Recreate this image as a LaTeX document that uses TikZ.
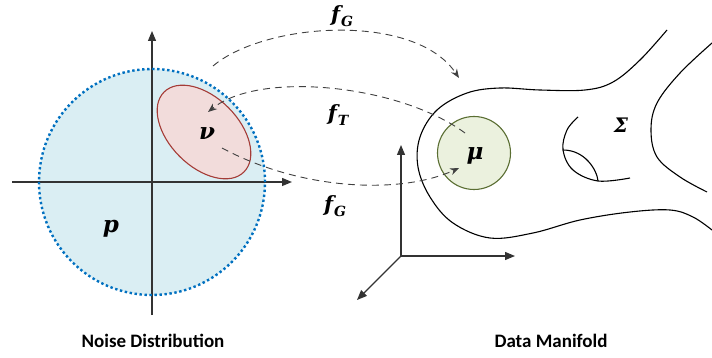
\documentclass[tikz,border=0pt]{standalone}
\usepackage{fontspec}
\newfontfamily\capfont{Carlito}
\newfontfamily\mapfont{DejaVu Serif}
\usetikzlibrary{positioning,arrows.meta,shapes.geometric}
\definecolor{noisefill}{HTML}{DAEEF3}
\definecolor{noiseedge}{HTML}{0070C0}
\definecolor{nufill}{HTML}{F2DCDB}
\definecolor{nuedge}{HTML}{A53C37}
\definecolor{mufill}{HTML}{EBF1DE}
\definecolor{muedge}{HTML}{5A6E32}
\newcommand{\mapname}[1]{f\kern1pt\raisebox{-5pt}{\fontsize{14}{15}\selectfont #1}}

\begin{document}
\begin{tikzpicture}[
  x=1pt, y=-1pt,
  every node/.style={inner sep=0pt},
  caption/.style={font=\capfont\bfseries\fontsize{19}{22}\selectfont},
  maplabel/.style={font=\mapfont\bfseries\itshape\fontsize{21}{24}\selectfont},
  setlabel/.style={font=\mapfont\bfseries\itshape\fontsize{23}{26}\selectfont},
  axis/.style={line width=1.2pt, draw=black!80, -{Triangle[length=10pt,width=8pt]}},
  mapping/.style={line width=0.9pt, draw=black!75, dash pattern=on 7pt off 5pt, -{Stealth[length=9pt,width=7pt]}},
  surface/.style={line width=1.1pt, draw=black}
]
\useasboundingbox (0,0) rectangle (712,358);

% noise side
\node[circle, minimum size=226pt, fill=noisefill] (pdist) at (152,182) {};
\coordinate (hxl) at (12,182);
\coordinate (hxr) at (292,182);
\coordinate (vyb) at (152,315);
\coordinate (vyt) at (152,31);
\draw[axis] (hxl) -- (hxr);
\draw[axis] (vyb) -- (vyt);
\node[circle, minimum size=226pt, draw=noiseedge, line width=2.4pt, dash pattern=on 2.4pt off 2.6pt] at (pdist) {};
\node[ellipse, minimum width=113pt, minimum height=69pt, rotate=-45, fill=nufill, draw=nuedge, line width=1.1pt] (nu) at (204,132) {};
\node[setlabel] (plabel) at (111,229) {p};
\node[setlabel] (nulabel) at (207,134) {ν};

% data side
\draw[surface] plot[smooth, tension=0.6] coordinates {(667,30) (640,60) (613,82) (585,90) (540,90) (500,88) (467,93) (437,110) (420,137) (418,167) (430,197) (453,223) (490,238) (533,233) (580,220) (630,212) (670,210) (693,217) (712,230)};
\draw[surface] plot[smooth, tension=0.6] coordinates {(712,43) (680,73) (657,103) (651,130) (657,157) (680,177) (707,192)};
\draw[surface] plot[smooth, tension=0.6] coordinates {(578,117) (567,130) (563,150) (573,170) (598,181) (630,178)};
\draw[surface] (563,150) .. controls (585,150) and (597,170) .. (598,181);
\node[circle, minimum size=73pt, fill=mufill, draw=muedge, line width=1.1pt] (mu) at (474,153) {};
\node[setlabel] (mulabel) at (475,156) {μ};
\node[setlabel, font=\mapfont\bfseries\itshape\fontsize{20}{22}\selectfont] (sigmalabel) at (621,125) {Σ};
\coordinate (orig) at (401,256);
\coordinate (ozup) at (401,145);
\coordinate (oxr) at (515,256);
\coordinate (odiag) at (357,300);
\draw[axis] (orig) -- (ozup);
\draw[axis] (orig) -- (oxr);
\draw[axis] (orig) -- (odiag);

% mappings
\coordinate (gsrc) at (213,66);
\coordinate (gdst) at (459,78);
\coordinate (tsrc) at (465,133);
\coordinate (tdst) at (208,112);
\coordinate (bsrc) at (222,148);
\coordinate (bdst) at (459,168);
\draw[mapping] (gsrc) .. controls (265,22) and (415,12) .. (gdst);
\draw[mapping] (tsrc) .. controls (400,85) and (260,70) .. (tdst);
\draw[mapping] (bsrc) .. controls (300,190) and (400,195) .. (bdst);
\node[maplabel] (fgtop) at (342,16) {\mapname{G}};
\node[maplabel] (ft) at (338,115) {\mapname{T}};
\node[maplabel] (fgbot) at (335,206) {\mapname{G}};

% captions
\node[caption] (noisecap) at (153,341) {Noise Distribution};
\node[caption] (datacap) at (551,341) {Data Manifold};
\end{tikzpicture}
\end{document}
